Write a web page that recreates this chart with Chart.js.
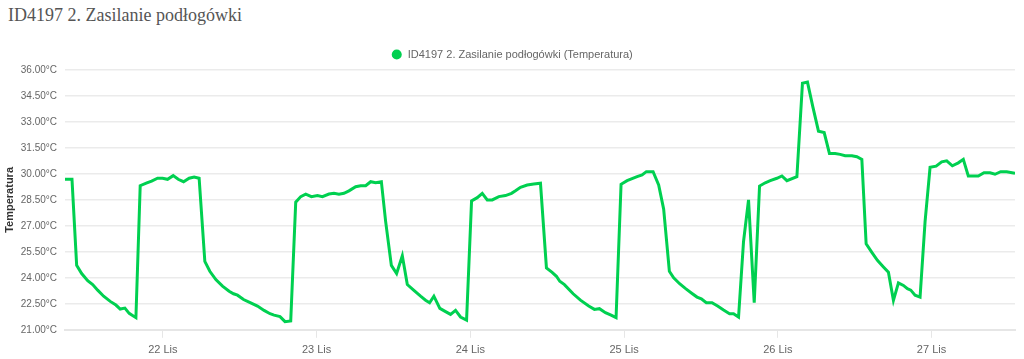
<!DOCTYPE html>
<html>
<head>
<meta charset="utf-8">
<script src="https://cdn.jsdelivr.net/npm/chart.js@4"></script>
<style>
  body { margin: 0; background: #fff; }
  #wrap { position: relative; width: 1024px; height: 359px; }
  #title {
    position: absolute; left: 8px; top: 3px; margin: 0;
    font: 18px/24px "Liberation Serif", "Times New Roman", serif;
    color: #555; font-weight: normal;
  }
  #chart { position: absolute; left: 0; top: 0; }
</style>
</head>
<body>
<div id="wrap">
  <h1 id="title">ID4197 2. Zasilanie podłogówki</h1>
  <canvas id="chart" width="1024" height="359"></canvas>
</div>
<script>
// hours counted from 21 Lis 00:00
var times = [8.72, 9.81, 10.54, 11.32, 12.26, 13.04, 13.82, 14.75, 15.78, 16.67,
  17.34, 18.07, 18.74, 19.79, 20.46, 21.50, 22.24, 23.17, 23.95, 24.73,
  25.61, 26.39, 27.23, 28.10, 28.88, 29.66, 30.55, 31.33, 32.27, 33.31,
  34.34, 35.03, 35.65, 36.59, 37.46, 38.77, 39.80, 40.73, 41.36, 42.29,
  43.07, 43.96, 44.74, 45.52, 46.30, 47.19, 48.13, 48.91, 49.93, 50.71,
  51.49, 52.27, 53.05, 54.10, 54.88, 55.66, 56.44, 57.22, 58.11, 58.78,
  59.67, 60.49, 61.38, 62.16, 63.19, 64.23, 65.01, 65.64, 66.31, 67.24,
  68.13, 68.91, 69.69, 70.47, 71.41, 72.19, 73.08, 73.86, 74.64, 75.42,
  76.45, 77.49, 78.43, 79.05, 79.83, 80.88, 81.90, 82.95, 83.88, 84.77,
  85.44, 85.96, 86.69, 88.05, 89.19, 90.48, 91.37, 92.15, 93.09, 93.97,
  94.75, 95.53, 96.47, 98.03, 98.81, 99.48, 100.53, 101.40, 102.18, 103.07,
  103.74, 104.67, 105.56, 106.61, 107.39, 108.06, 108.84, 109.73, 110.60, 111.53,
  112.47, 113.09, 113.87, 114.65, 115.43, 116.32, 117.15, 118.04, 118.82, 119.86,
  120.64, 121.42, 122.98, 123.85, 124.63, 125.48, 126.35, 127.24, 128.06, 128.95,
  129.73, 130.51, 131.56, 132.34, 133.12, 133.79, 134.68, 135.55, 136.49, 137.27,
  138.05, 138.83, 139.61, 140.23, 140.76, 141.43, 142.21, 142.99, 143.77, 144.71,
  145.59, 146.37, 147.25, 148.18, 148.96, 149.74, 150.52, 151.30, 152.19, 153.13,
  153.91, 154.80, 155.73, 157.03];

var temps = [29.69, 29.69, 24.72, 24.25, 23.84, 23.61, 23.29, 22.94, 22.64, 22.43,
  22.20, 22.25, 21.95, 21.70, 29.32, 29.48, 29.59, 29.75, 29.75, 29.69,
  29.90, 29.69, 29.55, 29.75, 29.82, 29.75, 24.95, 24.38, 23.90, 23.52,
  23.23, 23.08, 23.00, 22.75, 22.60, 22.37, 22.12, 21.93, 21.85, 21.76,
  21.47, 21.51, 28.37, 28.69, 28.83, 28.69, 28.75, 28.69, 28.84, 28.88,
  28.83, 28.88, 29.02, 29.26, 29.32, 29.32, 29.55, 29.49, 29.55, 27.25,
  24.72, 24.25, 25.28, 23.61, 23.27, 22.94, 22.71, 22.56, 22.94, 22.24,
  22.05, 21.89, 22.12, 21.74, 21.56, 28.44, 28.63, 28.88, 28.50, 28.50,
  28.69, 28.75, 28.88, 29.03, 29.23, 29.36, 29.42, 29.46, 24.57, 24.32,
  24.09, 23.80, 23.61, 23.08, 22.71, 22.37, 22.18, 22.22, 21.99, 21.85,
  21.70, 29.40, 29.61, 29.84, 29.94, 30.13, 30.13, 29.36, 27.97, 24.38,
  24.00, 23.66, 23.39, 23.10, 22.89, 22.79, 22.56, 22.56, 22.37, 22.14,
  21.93, 21.93, 21.74, 26.10, 28.50, 22.56, 29.30, 29.49, 29.61, 29.75,
  29.88, 29.61, 29.84, 35.24, 35.30, 33.86, 32.47, 32.39, 31.18, 31.18,
  31.13, 31.05, 31.05, 30.99, 30.84, 25.97, 25.47, 25.01, 24.63, 24.32,
  22.70, 23.71, 23.56, 23.37, 23.29, 23.00, 22.89, 27.25, 30.38, 30.45,
  30.70, 30.76, 30.47, 30.64, 30.84, 29.88, 29.88, 29.88, 30.07, 30.07,
  29.98, 30.13, 30.13, 30.03];

var tickHours = [24, 48, 72, 96, 120, 144];
var tickLabels = ['22 Lis', '23 Lis', '24 Lis', '25 Lis', '26 Lis', '27 Lis'];

var green = 'rgb(0, 208, 80)';

Chart.defaults.font.family = '"Liberation Sans", Arial, sans-serif';
Chart.defaults.color = '#666';

var points = times.map(function (t, i) { return { x: t, y: temps[i] }; });

new Chart(document.getElementById('chart'), {
  type: 'line',
  data: {
    datasets: [{
      label: 'ID4197 2. Zasilanie podłogówki (Temperatura)',
      data: points,
      borderColor: green,
      backgroundColor: green,
      borderWidth: 3,
      pointRadius: 0,
      pointStyle: 'circle',
      tension: 0,
      fill: false
    }]
  },
  options: {
    responsive: false,
    animation: false,
    layout: { padding: { top: 40, left: 0, right: 0, bottom: -4 } },
    plugins: {
      legend: {
        display: true,
        labels: {
          usePointStyle: true,
          boxWidth: 12,
          boxHeight: 5,
          padding: 9,
          font: { size: 11 },
          color: '#666'
        }
      },
      tooltip: { enabled: false }
    },
    scales: {
      x: {
        type: 'linear',
        min: times[0],
        max: times[times.length - 1],
        afterBuildTicks: function (scale) {
          scale.ticks = tickHours.map(function (h) { return { value: h }; });
        },
        ticks: {
          font: { size: 11 },
          padding: 6,
          maxRotation: 0,
          callback: function (value) {
            var i = tickHours.indexOf(value);
            return i >= 0 ? tickLabels[i] : '';
          }
        },
        grid: {
          drawOnChartArea: false,
          tickLength: 8,
          color: '#e6e6e6'
        },
        border: { display: true, color: '#e6e6e6', width: 2 }
      },
      y: {
        min: 21,
        max: 36,
        afterFit: function (scale) { scale.width = 65; },
        ticks: {
          stepSize: 1.5,
          font: { size: 10 },
          padding: 8,
          callback: function (value) { return value.toFixed(2) + '°C'; }
        },
        grid: { drawTicks: false, color: '#ebebeb', lineWidth: 1.5 },
        border: { display: false },
        title: {
          display: true,
          text: 'Temperatura',
          color: '#333',
          font: { size: 11, weight: 'bold' },
          padding: { top: 3, bottom: 3 }
        }
      },
      // empty spacer on the right so the legend stays centred on the canvas
      yRight: {
        position: 'right',
        min: 21,
        max: 36,
        afterFit: function (scale) { scale.width = 9; },
        ticks: { display: false },
        grid: { display: false },
        border: { display: false }
      }
    }
  }
});
</script>
</body>
</html>
